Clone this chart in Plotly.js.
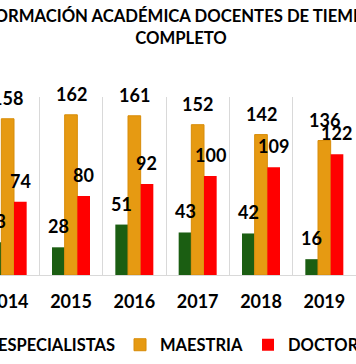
<!DOCTYPE html>
<html>
<head>
<meta charset="utf-8">
<script src="https://cdn.plot.ly/plotly-3.0.1.min.js"></script>
<style>
html,body{margin:0;padding:0;width:356px;height:364px;overflow:hidden;background:#fff;}
#chart{position:absolute;left:-200px;top:0;width:800px;height:364px;}
</style>
</head>
<body>
<div id="chart"></div>
<script>
var years = ['2014','2015','2016','2017','2018','2019'];
var especialistas = [33, 28, 51, 43, 42, 16];
var maestria = [158, 162, 161, 152, 142, 136];
var doctorado = [74, 80, 92, 100, 109, 122];
var seriesNames = ['ESPECIALISTAS', 'MAESTRIA', 'DOCTORADO'];
var seriesColors = ['#1b5e12', '#e69a12', '#ff0000'];
var titleText = 'FORMACIÓN ACADÉMICA DOCENTES DE TIEMPO<br>COMPLETO';

var FONT = 'Lato, "Open Sans", sans-serif';
var seriesVals = [especialistas, maestria, doctorado];
var W = 800, OFF = 200, ML = 176, plotW = 380;

var traces = seriesVals.map(function(v, i){
  return {
    type: 'bar', name: seriesNames[i], x: years, y: v,
    marker: {color: seriesColors[i], line: {color: i===1 ? '#d88c08' : seriesColors[i], width: i===1 ? 1 : 0}},
    hoverinfo: 'none'
  };
});

var nCat = years.length, bargap = 0.4;
var barW = plotW / nCat * (1 - bargap) / 3;

var annotations = [];
seriesVals.forEach(function(v, i){
  v.forEach(function(val, j){
    annotations.push({
      x: j, y: val, xref: 'x', yref: 'y', text: '<b>' + val + '</b>',
      showarrow: false, xshift: (i - 1) * barW, yshift: 21,
      font: {family: FONT, size: 18, color: '#000'}
    });
  });
});

var layout = {
  width: W, height: 364,
  margin: {l: ML, r: W - ML - plotW, t: 97, b: 89, autoexpand: false},
  paper_bgcolor: '#fff', plot_bgcolor: '#fff',
  showlegend: true,
  barmode: 'group', bargap: bargap, bargroupgap: 0,
  title: {
    text: '<b>' + titleText + '</b>', x: (181 + OFF) / W, xref: 'container', xanchor: 'center',
    y: 0.94, yref: 'container', yanchor: 'top',
    font: {family: FONT, size: 16.7, color: '#000'}
  },
  xaxis: {
    type: 'category', tickson: 'boundaries', showgrid: true, gridcolor: '#d9d9d9', gridwidth: 1,
    showline: true, linecolor: '#d9d9d9', linewidth: 1, ticks: '',
    ticklabelstandoff: 10,
    tickfont: {family: FONT, size: 18, color: '#000', weight: 'bold'},
    range: [-0.5, 5.5], fixedrange: true
  },
  yaxis: {
    range: [0, 180], showgrid: false, zeroline: false, showticklabels: false, showline: false, fixedrange: true
  },
  legend: {
    orientation: 'h', x: (38 + OFF - 80 - ML) / plotW, xanchor: 'left', xref: 'paper',
    y: -70 / 178, yanchor: 'middle', yref: 'paper',
    font: {family: FONT, size: 16.5, color: '#000', weight: 'bold'},
    traceorder: 'normal', itemclick: false, itemdoubleclick: false
  },
  annotations: annotations
};

Plotly.newPlot('chart', traces, layout, {displayModeBar: false, staticPlot: true});
</script>
</body>
</html>
